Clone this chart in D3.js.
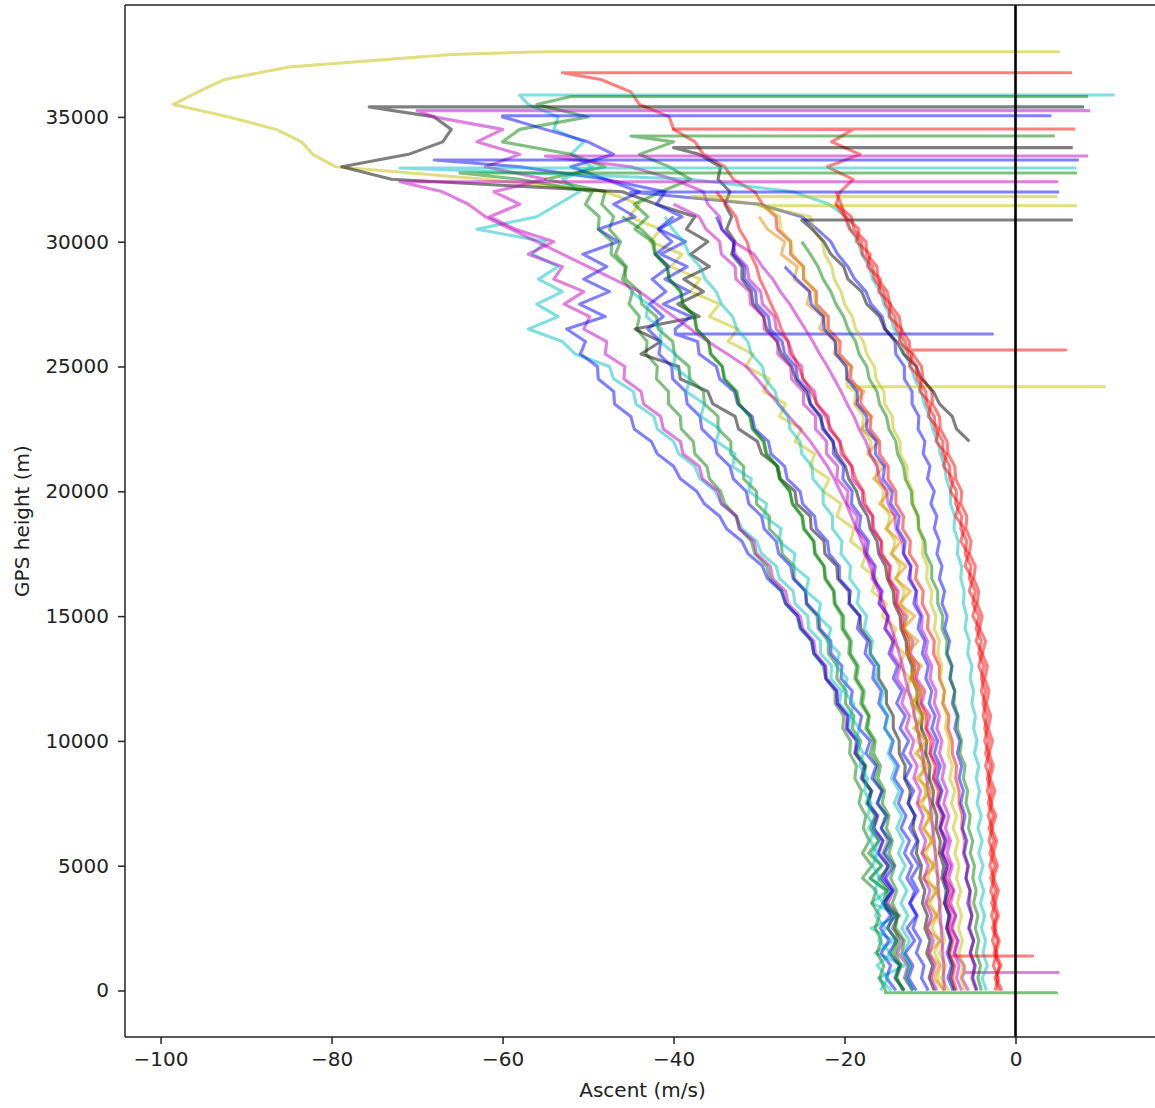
<!DOCTYPE html>
<html>
<head>
<meta charset="utf-8">
<script src="https://cdn.jsdelivr.net/npm/d3@7"></script>
<style>
  body { margin: 0; background: #fff; }
  text { font-family: "DejaVu Sans", sans-serif; }
</style>
</head>
<body>
<script>
const altitudeGrid = [0,500,1000,1500,2000,2500,3000,3500,4000,4500,5000,5500,6000,6500,7000,7500,8000,8500,9000,9500,
  10000,10500,11000,11500,12000,12500,13000,13500,14000,14500,15000,15500,16000,16500,17000,17500,18000,18500,19000,19500,
  20000,20500,21000,21500,22000,22500,23000,23500,24000,24500,25000,25500,26000,26500,27000,27500,28000,28500,29000,29500,
  30000,30500,31000,31500,32000,32500,33000,33500,34000,34500,35000,35500,36000,36500,37000,37500]

const xTicks = [-100,-80,-60,-40,-20,0]
const yTicks = [0,5000,10000,15000,20000,25000,30000,35000]

// descent speed (m/s) per flight
const flight01 = [-7.8,-8.7,-8.1,-8.9,-8.3,-8.6,-9.2,-8.6,-9.4,-8.9,-9.7,-9.1,-9.9,-9.5,-10.2,-9.7,-10.6,-10.1,-11.0,-10.5,
  -11.5,-11.0,-12.0,-11.6,-12.7,-12.3,-13.6,-13.0,-14.5,-14.0,-15.6,-15.1,-16.8,-16.2,-18.0,-17.4,-19.3,-18.9,-20.9,-20.4,
  -22.5,-21.8,-24.0,-23.5,-25.8,-25.0,-27.6,-26.9,-29.5,-28.8,-31.5,-30.7,-33.6,-32.5,-35.8,-34.6,-38.0,-36.9,-40.3,-39.0,
  -42.7,-41.5,-45.2,-44.0,-48.0,-62.0,-79.5,-82.2,-83.5,-86.5,-92.0,-98.5,-95.6,-92.5,-85.0,-66.0]
const flight02 = [-4.6,-5.1,-4.8,-5.3,-4.9,-5.5,-5.1,-5.4,-5.3,-5.8,-5.6,-6.1,-5.9,-6.3,-6.2,-6.6,-6.6,-7.0,-6.9,-7.4,
  -7.4,-7.9,-7.8,-8.5,-8.3,-8.9,-8.9,-9.6,-9.5,-10.3,-10.2,-10.9,-10.8,-11.7,-11.5,-12.4,-12.3,-13.2,-13.1,-14.0,
  -14.0,-14.9,-14.9,-15.9,-15.9,-17.0,-16.9,-18.1,-18.0,-19.3,-19.2,-20.6,-20.5,-21.9,-21.9,-23.3,-23.3,-24.8,-24.8,-26.3,
  -26.3,-27.9,-28.0,-29.6,-30.5,-33.0,-34.0,-36.5,-37.5,-40.0,-40.5,-44.0,-45.0,-48.5]
const flight03 = [-14.5,-16.0,-13.0,-16.4,-14.2,-16.9,-13.5,-16.8,-15.0,-17.0,-15.6,-16.8,-15.9,-17.2,-16.3,-17.5,-16.9,-18.1,-17.6,-18.8,
  -18.4,-19.6,-19.3,-20.6,-20.4,-21.6,-21.5,-22.8,-22.8,-24.2,-24.3,-25.8,-26.0,-27.6,-28.0,-29.7,-30.3,-32.0,-32.7,-34.4,
  -35.1,-36.9,-37.5,-39.4,-40.0,-41.9,-42.3,-44.4,-44.7,-47.0,-47.5,-51.5,-53.0,-57.0,-53.5,-56.0,-53.0,-55.8,-53.5,-56.5,
  -55.0,-63.0,-56.0,-53.5,-51.0,-53.0,-49.5,-52.0,-50.5,-54.0,-53.5,-57.0]
const flight04 = [-15.2,-15.9,-15.4,-16.2,-15.7,-16.4,-15.9,-16.8,-16.3,-17.9,-16.8,-17.9,-17.1,-17.8,-17.5,-18.3,-18.0,-18.8,-18.6,-19.4,
  -19.3,-20.2,-20.1,-21.1,-21.1,-22.2,-22.5,-23.6,-23.9,-25.2,-25.5,-26.9,-27.3,-28.7,-29.1,-30.5,-30.9,-32.3,-32.7,-34.0,
  -34.5,-35.8,-36.1,-37.5,-37.7,-39.1,-39.2,-40.6,-40.6,-42.0,-41.9,-43.2,-43.1,-44.3,-44.0,-45.2,-44.8,-46.0,-45.5,-46.8,
  -46.2,-47.5,-47.0,-48.4,-48.0,-55.0,-48.0,-52.0,-60.0,-58.0,-50.0,-56.0]
const flight05 = [-9.5,-10.1,-9.7,-10.4,-10.0,-10.6,-10.3,-10.9,-10.6,-11.2,-11.0,-11.6,-11.4,-12.0,-11.8,-12.5,-12.3,-13.0,-12.9,-13.6,
  -13.6,-14.3,-14.3,-15.1,-15.1,-16.0,-16.0,-17.0,-17.0,-18.1,-18.2,-19.4,-19.5,-20.8,-20.9,-22.3,-22.4,-23.9,-24.0,-25.6,
  -25.8,-27.5,-27.8,-29.7,-30.2,-32.4,-32.8,-35.4,-36.0,-39.2,-39.4,-43.8,-41.5,-44.5,-37.0,-39.5,-36.5,-38.8,-35.8,-38.0,
  -36.0,-38.5,-37.5,-42.0,-46.0,-73.0,-78.8,-71.0,-67.0,-66.0,-68.0]
const flight06 = [-12.0,-13.0,-12.6,-13.8,-13.2,-14.4,-13.7,-14.9,-14.3,-15.4,-14.9,-16.0,-15.5,-16.6,-16.2,-17.3,-16.9,-18.0,-17.7,-18.8,
  -18.6,-19.8,-19.7,-20.9,-20.9,-22.1,-22.2,-23.4,-23.6,-24.9,-25.2,-26.6,-26.9,-28.4,-28.7,-30.3,-30.6,-32.3,-32.6,-34.4,
  -34.8,-36.6,-37.0,-38.9,-39.2,-41.2,-41.5,-43.5,-43.8,-45.8,-45.7,-48.0,-47.8,-50.5,-49.8,-52.8,-50.5,-54.0,-53.0,-57.0,
  -54.0,-58.5,-61.5,-58.0,-61.0,-55.0,-62.0,-58.0,-63.0,-60.0,-68.0]
const flight07 = [-13.0,-14.1,-13.6,-14.8,-13.9,-15.0,-14.1,-15.3,-14.5,-15.7,-14.9,-16.1,-15.5,-16.6,-16.1,-17.2,-16.8,-17.9,-17.6,-18.7,
  -18.5,-19.7,-19.6,-20.8,-20.9,-22.2,-22.3,-23.6,-23.8,-25.1,-25.5,-26.9,-27.4,-29.0,-29.6,-31.3,-32.0,-33.8,-34.6,-36.4,
  -37.3,-39.2,-40.0,-41.9,-42.6,-44.6,-45.0,-46.9,-47.0,-48.8,-48.9,-50.9,-50.3,-52.5,-48.0,-51.0,-47.5,-50.5,-47.8,-50.6,
  -46.5,-48.8,-44.5,-47.0,-44.0,-48.0,-52.0,-47.0,-50.0,-55.0,-60.0]
const flight08 = [-1.9,-2.4,-1.7,-2.3,-1.9,-2.5,-2.0,-2.4,-2.0,-2.6,-2.1,-2.6,-2.2,-2.8,-2.3,-2.9,-2.4,-3.0,-2.6,-3.1,
  -2.7,-3.2,-2.9,-3.4,-3.1,-3.6,-3.3,-3.9,-3.5,-4.2,-3.9,-4.5,-4.3,-4.9,-4.7,-5.4,-5.2,-5.8,-5.7,-6.4,
  -6.3,-7.0,-7.1,-7.9,-8.0,-8.8,-8.9,-9.7,-9.8,-10.8,-11.0,-12.0,-12.4,-13.4,-13.6,-14.7,-15.0,-16.1,-16.2,-17.4,
  -17.5,-18.9,-19.2,-21.0,-20.5,-19.0,-22.0,-18.2,-21.5,-19.0]
const flight09 = [-12.0,-12.8,-12.4,-13.3,-13.0,-14.0,-13.9,-15.2,-14.8,-16.0,-14.6,-15.5,-14.9,-15.7,-15.2,-16.1,-15.6,-16.5,-16.1,-17.0,
  -16.6,-17.5,-17.2,-18.1,-17.9,-18.8,-18.6,-19.5,-19.4,-20.3,-20.3,-21.2,-21.3,-22.3,-22.4,-23.5,-23.6,-24.8,-25.0,-26.1,
  -26.4,-27.6,-27.9,-29.1,-29.4,-30.7,-31.0,-32.3,-32.6,-34.0,-34.3,-35.6,-35.9,-37.3,-37.6,-38.9,-39.2,-40.5,-40.8,-42.2,
  -42.5,-44.5,-43.0,-44.6,-41.5,-38.0,-40.5,-44.0,-40.0]
const flight10 = [-7.1,-7.6,-7.3,-7.8,-7.5,-8.0,-7.8,-8.3,-8.1,-8.6,-8.4,-8.9,-8.8,-9.3,-9.2,-9.7,-9.6,-10.1,-10.0,-10.5,
  -10.4,-11.0,-10.9,-11.5,-11.5,-12.1,-12.1,-12.7,-12.8,-13.4,-13.5,-14.2,-14.3,-15.0,-15.2,-16.0,-16.2,-17.0,-17.3,-18.2,
  -18.6,-19.5,-19.9,-20.9,-21.4,-22.4,-22.9,-24.0,-24.5,-25.7,-26.2,-27.4,-27.9,-29.1,-29.5,-30.7,-30.9,-32.0,-32.0,-33.2,
  -32.8,-33.8,-33.2,-34.0,-33.4,-34.8,-34.5,-37.0]
const flight11 = [-5.5,-6.3,-6.0,-7.1,-6.7,-7.6,-7.0,-7.9,-7.3,-8.2,-7.6,-8.5,-7.9,-8.8,-8.3,-9.2,-8.7,-9.6,-9.1,-10.0,
  -9.5,-10.4,-10.0,-11.0,-10.6,-11.6,-11.3,-12.3,-12.0,-13.1,-12.8,-13.9,-13.7,-14.8,-14.6,-15.8,-15.7,-16.8,-16.7,-17.9,
  -17.9,-19.1,-19.1,-20.4,-20.5,-21.8,-21.9,-23.3,-23.5,-24.9,-25.0,-26.4,-26.6,-28.0,-28.2,-29.6,-29.8,-31.2,-31.4,-32.8,
  -33.0,-34.4,-34.6,-36.0,-36.5,-40.0,-45.0]
const flight12 = [-10.2,-11.0,-10.7,-11.6,-11.1,-12.0,-11.5,-12.3,-11.8,-12.7,-12.1,-13.0,-12.4,-13.4,-12.8,-13.7,-13.2,-14.2,-13.7,-14.7,
  -14.3,-15.3,-15.0,-16.0,-15.7,-16.7,-16.5,-17.6,-17.3,-18.5,-18.2,-19.5,-19.3,-20.6,-20.6,-21.8,-22.0,-23.3,-23.5,-24.9,
  -25.2,-26.7,-27.0,-28.6,-28.9,-30.5,-30.8,-32.5,-32.9,-34.6,-35.0,-37.0,-37.2,-39.8,-38.0,-41.2,-38.1,-41.0,-38.4,-41.5,
  -38.6,-41.7,-39.0,-42.0,-41.0,-48.0,-58.0]
const flight13 = [-3.4,-3.9,-3.3,-3.8,-3.5,-4.0,-3.6,-4.1,-3.7,-4.2,-3.8,-4.3,-3.9,-4.4,-4.0,-4.5,-4.2,-4.6,-4.3,-4.8,
  -4.5,-4.9,-4.7,-5.1,-4.9,-5.3,-5.1,-5.6,-5.4,-5.9,-5.7,-6.1,-6.0,-6.4,-6.3,-6.8,-6.7,-7.2,-7.1,-7.6,
  -7.6,-8.1,-8.3,-8.8,-9.1,-9.7,-10.0,-10.7,-11.0,-11.8,-12.2,-13.0,-13.3,-14.2,-14.6,-15.4,-15.8,-16.7,-17.1,-18.0,
  -18.4,-19.3,-19.8,-21.8,-26.0,-38.0]
const flight14 = [-13.0,-14.0,-13.5,-14.5,-13.9,-14.9,-14.4,-15.5,-15.1,-17.0,-15.7,-17.2,-16.0,-16.9,-16.4,-17.3,-16.9,-17.8,-17.5,-18.5,
  -18.1,-19.1,-18.9,-19.9,-19.8,-20.9,-20.8,-21.9,-21.9,-23.1,-23.2,-24.5,-24.5,-25.9,-25.9,-27.3,-27.4,-28.8,-28.8,-30.3,
  -30.3,-31.8,-31.8,-33.3,-33.3,-34.8,-34.8,-36.4,-36.5,-38.1,-38.2,-39.9,-40.1,-41.8,-42.0,-43.7,-44.0,-45.6,-45.7,-47.3,
  -47.2,-48.8,-48.7,-50.3,-49.5,-58.0]
const flight15 = [-4.5,-5.0,-4.7,-5.3,-4.9,-5.4,-5.1,-5.6,-5.3,-5.8,-5.5,-6.0,-5.7,-6.2,-5.9,-6.4,-6.1,-6.6,-6.3,-6.8,
  -6.5,-7.1,-6.8,-7.4,-7.1,-7.7,-7.4,-8.0,-7.7,-8.3,-8.0,-8.6,-8.3,-8.9,-8.6,-9.2,-8.9,-9.5,-9.2,-9.9,
  -9.5,-10.3,-10.0,-10.8,-10.6,-11.4,-11.3,-12.1,-12.1,-13.0,-13.0,-14.0,-14.1,-15.2,-15.6,-16.9,-17.5,-18.8,-19.6,-20.8,
  -21.6,-23.2,-25.0,-30.0]
const flight16 = [-8.4,-9.2,-8.7,-9.5,-8.9,-9.8,-9.2,-10.0,-9.4,-10.3,-9.7,-10.5,-9.9,-10.7,-10.1,-10.9,-10.4,-11.2,-10.6,-11.4,
  -10.8,-11.6,-11.1,-11.9,-11.4,-12.2,-11.8,-12.6,-12.2,-13.0,-12.6,-13.4,-13.0,-13.9,-13.5,-14.4,-14.1,-15.0,-14.7,-15.6,
  -15.4,-16.3,-16.1,-17.1,-16.9,-17.9,-17.8,-18.8,-18.7,-19.7,-19.8,-20.9,-21.1,-22.2,-22.3,-23.4,-23.5,-24.7,-24.9,-26.1,
  -26.3,-27.5,-27.6,-30.0]
const flight17 = [-5.9,-6.4,-6.1,-6.6,-6.2,-6.7,-6.3,-6.8,-6.4,-6.9,-6.6,-7.1,-6.7,-7.3,-6.9,-7.5,-7.1,-7.7,-7.4,-7.9,
  -7.7,-8.2,-8.0,-8.5,-8.3,-8.8,-8.6,-9.1,-8.9,-9.5,-9.3,-9.9,-9.8,-10.4,-10.3,-10.9,-10.8,-11.4,-11.4,-12.0,
  -12.0,-12.7,-12.7,-13.5,-13.5,-14.3,-14.4,-15.3,-15.4,-16.3,-16.5,-17.4,-17.8,-18.7,-19.1,-20.0,-20.4,-21.2,-21.5,-22.3,
  -22.6,-23.6,-24.0]
// this one has no data below 22 km
const flight18 = [-5.4,-6.9,-7.4,-8.9,-9.6,-11.0,-11.6,-13.1,-13.9,-15.3,-15.9,-17.4,-18.0,-19.6,-20.1,-21.6,-22.4,-23.8]
const flight19 = [-8.3,-8.4,-8.4,-8.5,-8.6,-8.7,-8.8,-8.9,-9.0,-9.1,-9.2,-9.4,-9.5,-9.7,-9.8,-10.0,-10.2,-10.4,-10.7,-10.9,
  -11.2,-11.5,-11.8,-12.1,-12.5,-12.9,-13.2,-13.6,-14.0,-14.5,-15.0,-15.5,-16.0,-16.5,-17.0,-17.5,-18.0,-18.6,-19.2,-19.8,
  -20.5,-21.2,-22.0,-23.0,-24.0,-25.2,-26.5,-27.7,-29.0,-30.2,-31.5,-33.7,-36.0,-38.0,-40.0,-42.0,-44.0,-47.0,-50.0,-53.0,
  -56.0,-59.0,-62.0,-64.0,-67.0]
const flight20 = [-14.0,-15.1,-14.6,-15.7,-14.8,-15.8,-14.6,-15.5,-14.3,-15.2,-14.2,-15.3,-14.6,-15.7,-15.0,-16.2,-15.6,-16.8,-16.3,-17.5,
  -17.0,-18.3,-18.0,-19.3,-19.1,-20.4,-20.3,-21.6,-21.6,-22.9,-23.0,-24.4,-24.6,-26.0,-26.3,-27.7,-28.0,-29.4,-29.7,-31.2,
  -31.5,-33.0,-33.4,-34.9,-35.2,-36.7,-36.9,-38.4,-38.6,-40.1,-40.2,-41.7,-41.5,-43.0,-41.2,-42.8,-40.9,-42.5,-40.5,-42.1,
  -40.2,-41.8,-40.0]
const flight21 = [-6.9,-7.4,-7.1,-7.7,-7.3,-7.9,-7.5,-8.1,-7.7,-8.3,-8.0,-8.6,-8.3,-8.9,-8.6,-9.2,-9.0,-9.6,-9.4,-10.0,
  -9.9,-10.5,-10.4,-11.1,-11.1,-11.8,-11.8,-12.5,-12.5,-13.2,-13.2,-14.0,-14.0,-14.8,-14.8,-15.6,-15.7,-16.6,-16.7,-17.6,
  -17.8,-18.7,-19.2,-20.1,-20.6,-21.6,-22.2,-23.2,-23.9,-24.8,-25.4,-26.1,-26.6,-27.4,-27.9,-28.6,-29.2,-29.9,-30.3,-31.0,
  -31.4,-32.3,-32.7,-33.8,-35.0]
const flight22 = [-12.0,-12.8,-12.3,-13.1,-12.4,-13.3,-12.6,-13.4,-12.7,-13.6,-12.9,-13.7,-13.1,-13.9,-13.3,-14.2,-13.6,-14.5,-14.0,-14.9,
  -14.4,-15.3,-14.9,-15.8,-15.4,-16.4,-16.0,-17.0,-16.7,-17.7,-17.4,-18.5,-18.3,-19.4,-19.3,-20.4,-20.3,-21.4,-21.4,-22.5,
  -22.5,-23.7,-23.8,-25.0,-25.2,-26.4,-26.6,-27.8,-28.1,-29.3,-29.6,-30.9,-31.3,-32.6,-33.1,-34.4,-35.0,-36.3,-36.9,-38.2,
  -38.8,-40.1,-41.0]
const flight23 = [-8.3,-9.6,-8.9,-10.2,-8.8,-10.5,-9.2,-10.4,-9.0,-10.9,-9.4,-11.0,-9.6,-10.8,-9.8,-11.4,-9.7,-11.6,-10.1,-11.7,
  -10.3,-11.9,-10.5,-12.2,-10.8,-12.4,-11.0,-12.7,-11.4,-13.1,-11.8,-13.6,-12.3,-14.1,-12.8,-14.6,-13.4,-15.2,-14.0,-15.9,
  -14.7,-16.6,-15.4,-17.3,-16.0,-18.0,-16.8,-18.8,-17.7,-19.8,-19.2,-21.2,-20.8,-22.9,-22.4,-24.4,-24.0,-25.9,-25.5,-27.4,
  -27.0,-29.0,-30.0]
const flight24 = [-4.0,-4.4,-4.1,-4.6,-4.3,-4.7,-4.4,-4.9,-4.6,-5.0,-4.8,-5.3,-5.0,-5.5,-5.3,-5.8,-5.6,-6.1,-5.9,-6.5,
  -6.3,-6.8,-6.7,-7.2,-7.1,-7.6,-7.5,-8.1,-8.0,-8.6,-8.5,-9.1,-9.1,-9.8,-9.8,-10.5,-10.6,-11.3,-11.4,-12.1,
  -12.2,-12.9,-13.1,-13.8,-14.0,-14.8,-15.1,-15.9,-16.2,-17.1,-17.4,-18.3,-18.7,-19.6,-20.1,-21.0,-21.6,-22.5,-23.1,-24.0,
  -25.0]
const flight25 = [-6.3,-6.9,-6.6,-7.2,-6.8,-7.4,-7.0,-7.6,-7.2,-7.8,-7.4,-8.0,-7.6,-8.2,-7.8,-8.4,-8.0,-8.6,-8.3,-8.9,
  -8.6,-9.2,-8.9,-9.5,-9.3,-10.0,-9.8,-10.5,-10.3,-11.0,-10.9,-11.6,-11.6,-12.3,-12.3,-13.1,-13.2,-14.0,-14.1,-14.9,
  -15.1,-15.9,-16.2,-17.0,-17.5,-18.3,-18.9,-19.7,-20.4,-21.2,-22.0,-22.9,-23.7,-24.6,-25.5,-26.4,-27.5,-28.4,-29.6,-30.6,
  -33.0]
const flight26 = [-11.6,-12.5,-12.0,-12.9,-11.8,-12.7,-11.6,-12.4,-11.4,-12.2,-11.3,-12.2,-11.5,-12.4,-11.7,-12.6,-11.9,-12.9,-12.2,-13.2,
  -12.5,-13.5,-12.9,-13.9,-13.3,-14.3,-13.8,-14.8,-14.3,-15.3,-14.9,-15.9,-15.6,-16.6,-16.4,-17.4,-17.2,-18.3,-18.1,-19.2,
  -19.1,-20.2,-20.1,-21.3,-21.3,-22.6,-22.7,-24.0,-24.2,-25.5,-25.7,-27.0,-27.3,-28.7,-28.9,-30.3,-30.4,-31.7,-31.7,-33.0,
  -33.0,-34.3,-35.0]
const flight27 = [-2.4,-2.0,-2.6,-2.2,-2.7,-2.3,-2.8,-2.4,-2.9,-2.5,-3.0,-2.6,-3.1,-2.7,-3.2,-2.8,-3.3,-3.0,-3.5,-3.1,
  -3.6,-3.3,-3.8,-3.5,-4.0,-3.7,-4.3,-3.9,-4.6,-4.2,-5.0,-4.6,-5.4,-5.0,-5.9,-5.5,-6.4,-6.0,-7.0,-6.6,
  -7.6,-7.3,-8.4,-8.1,-9.3,-9.0,-10.2,-9.9,-11.2,-11.0,-12.4,-12.1,-13.6,-13.3,-14.8,-14.6,-16.0,-15.8,-17.3,-17.0,
  -18.6,-18.3,-19.9,-20.4,-21.0]
const flight28 = [-13.2,-13.9,-13.4,-14.1,-13.6,-14.2,-13.7,-14.4,-13.9,-14.6,-14.1,-14.8,-14.4,-15.1,-14.8,-15.6,-15.3,-16.1,-15.8,-16.6,
  -16.4,-17.3,-17.1,-17.9,-17.7,-18.6,-18.4,-19.3,-19.2,-20.1,-20.1,-21.1,-21.2,-22.2,-22.4,-23.4,-23.6,-24.7,-24.9,-26.1,
  -26.4,-27.6,-27.9,-29.2,-29.5,-30.8,-31.1,-32.4,-32.7,-34.1,-34.3,-35.7,-35.9,-37.3,-37.5,-38.9,-39.1,-40.5,-40.7,-42.1,
  -42.3,-43.8,-46.0]
const flight29 = [-9.2,-9.9,-9.4,-10.1,-9.6,-10.3,-9.8,-10.5,-10.0,-10.7,-10.2,-10.9,-10.5,-11.2,-10.8,-11.5,-11.1,-11.9,-11.5,-12.3,
  -11.9,-12.8,-12.4,-13.3,-12.9,-13.9,-13.5,-14.5,-14.2,-15.2,-14.9,-16.0,-15.7,-16.8,-16.6,-17.7,-17.5,-18.7,-18.5,-19.7,
  -19.6,-20.9,-20.8,-22.1,-22.1,-23.4,-23.4,-24.8,-24.8,-26.2,-26.3,-27.8,-27.8,-29.4,-29.4,-31.0,-31.1,-32.7,-32.8,-34.4,
  -34.6,-36.2,-37.0,-40.0]
const flight30 = [-7.3,-7.9,-7.5,-8.0,-7.6,-8.1,-7.7,-8.3,-7.9,-8.4,-8.0,-8.6,-8.2,-8.8,-8.4,-9.0,-8.6,-9.2,-8.8,-9.5,
  -9.1,-9.8,-9.4,-10.1,-9.8,-10.5,-10.2,-10.9,-10.6,-11.4,-11.1,-11.9,-11.6,-12.5,-12.2,-13.1,-12.9,-13.8,-13.6,-14.6,
  -14.4,-15.5,-15.3,-16.4,-16.3,-17.4,-17.4,-18.5,-18.5,-19.7,-19.8,-21.0,-21.1,-22.4,-22.5,-23.9,-24.1,-25.6,-27.0]
const flight31 = [-15.8,-14.9,-16.2,-14.6,-16.0,-15.2,-16.4,-15.5,-16.5,-15.9,-16.7,-16.2,-17.0,-16.5,-17.3,-16.9,-17.7,-17.3,-18.2,-17.8,
  -18.6,-18.3,-19.3,-18.9,-20.1,-19.7,-21.0,-20.6,-22.0,-21.6,-23.1,-22.8,-24.5,-24.2,-26.0,-25.8,-27.7,-27.4,-29.4,-29.1,
  -31.2,-30.9,-33.1,-32.8,-35.0,-34.6,-36.8,-36.4,-38.5,-38.1,-40.0,-39.8,-41.6,-41.4,-43.2,-43.0,-45.0]
const flight32 = [-1.6,-2.2,-1.9,-2.5,-2.1,-2.7,-2.2,-2.8,-2.3,-2.9,-2.4,-3.0,-2.5,-3.1,-2.6,-3.2,-2.8,-3.3,-2.9,-3.5,
  -3.1,-3.6,-3.3,-3.8,-3.5,-4.0,-3.7,-4.3,-4.0,-4.6,-4.3,-5.0,-4.7,-5.4,-5.2,-5.9,-5.7,-6.4,-6.3,-7.0,
  -6.9,-7.7,-7.7,-8.5,-8.5,-9.4,-9.5,-10.4,-10.5,-11.5,-11.6,-12.6,-12.9,-13.9,-14.1,-15.2,-15.4,-16.5,-16.7,-17.9,
  -18.0,-19.4,-20.0,-21.0]

const flights = [flight01,flight02,flight03,flight04,flight05,flight06,flight07,flight08,flight09,flight10,flight11,flight12,flight13,
  flight14,flight15,flight16,flight17,flight18,flight19,flight20,flight21,flight22,flight23,flight24,flight25,flight26,flight27,
  flight28,flight29,flight30,flight31,flight32]
// lowest altitude of each profile
const bottomAlt = [0,0,0,0,0,0,0,0,0,0,0,0,0,0,0,0,0,22000,0,0,0,0,0,0,0,0,0,0,0,0,0,0]

// burst: altitude, last ascent speed, first descent speed (null = not visible)
const burstAlt  = [37611,36771,35877,35817,35400,35250,35047,34516,34236,33767,33434,33274,32955,32754,31993,31805,31443,30870,32400]
const burstUp   = [5.2,6.6,11.6,8.5,8.0,8.7,4.2,7.0,4.6,6.7,8.5,7.4,7.1,7.2,5.1,4.9,7.2,6.7,5.0]
const burstDown = [-55,-53,-58,-52,-75.6,-70,-60,-40,-45,-40,-55,-68,-72,-65,-45,-38,-30,-25,-72]

// single-sample glitches: flight index, altitude, speed
const spikeFlight = [7,11,15,10,20,3]
const spikeAlt    = [25660,26300,24190,720,1380,-90]
const spikeSpeed  = [5.9,-2.7,10.4,5.0,2.0,4.8]

const colorKey = ['y','r','c','g','k','m','b','r','g','k','m','b','c','g','b','y','y','k','m','b','r','c','o','g','m','b','r',
  'g','m','b','c','r']
const palette = {b:'#0000ff', g:'#008000', r:'#ff0000', c:'#00bfbf', m:'#bf00bf', y:'#bfbf00', k:'#000000', o:'#e08a00'}

const width = 1155
const height = 1108

const x = d3.scaleLinear().domain([-104.16, 16.9]).range([125, 1160])
const y = d3.scaleLinear().domain([-1863, 39483]).range([1037, 5])

const svg = d3.select("body").append("svg")
    .attr("width", width)
    .attr("height", height)

svg.append("clipPath").attr("id", "plot")
  .append("rect").attr("x", 125).attr("y", 5).attr("width", 1035).attr("height", 1032)

function flightPoints(i) {
  const v = flights[i]
  const pts = []
  if (burstAlt[i] != null) {
    pts.push([burstUp[i], burstAlt[i]], [burstDown[i], burstAlt[i]])
  }
  for (let j = v.length - 1; j >= 0; j--) pts.push([v[j], bottomAlt[i] + altitudeGrid[j]])
  spikeFlight.forEach((f, s) => {
    if (f !== i) return
    let k = pts.findIndex((p, n) => n > 0 && p[1] < spikeAlt[s])
    if (k < 0) k = pts.length
    const base = pts[k - 1][0]
    pts.splice(k, 0, [base, spikeAlt[s]], [spikeSpeed[s], spikeAlt[s]], [base, spikeAlt[s]])
  })
  return pts
}

const line = d3.line()
  .x(d => x(d[0]))
  .y(d => y(d[1]))

const g = svg.append("g").attr("clip-path", "url(#plot)")

g.selectAll("path.flight")
  .data(flights.map((f, i) => i))
  .enter()
  .append("path")
  .attr("class", "flight")
  .attr("d", i => line(flightPoints(i)))
  .attr("fill", "none")
  .attr("stroke", i => palette[colorKey[i]])
  .attr("stroke-opacity", 0.5)
  .attr("stroke-width", 3.1)
  .attr("stroke-linejoin", "round")

// x = 0 reference line
g.append("line")
  .attr("x1", x(0)).attr("x2", x(0))
  .attr("y1", 5).attr("y2", 1037)
  .attr("stroke", "#000")
  .attr("stroke-width", 2.6)

// axes
svg.append("g")
  .attr("transform", "translate(0,1037)")
  .call(d3.axisBottom(x).tickValues(xTicks).tickSize(7).tickPadding(8).tickFormat(d3.format("d")))
svg.append("g")
  .attr("transform", "translate(125,0)")
  .call(d3.axisLeft(y).tickValues(yTicks).tickSize(7).tickPadding(9).tickFormat(d3.format("d")))

svg.selectAll(".domain").remove()
svg.selectAll(".tick line").attr("stroke", "#222").attr("stroke-width", 1.5)
svg.selectAll(".tick text").attr("font-size", 20).attr("fill", "#222")
  .attr("font-family", "DejaVu Sans")

// spines
const spine = [[125, 5, 125, 1037], [125, 5, 1160, 5], [125, 1037, 1160, 1037], [1160, 5, 1160, 1037]]
svg.selectAll("line.spine")
  .data(spine)
  .enter()
  .append("line")
  .attr("class", "spine")
  .attr("x1", d => d[0]).attr("y1", d => d[1])
  .attr("x2", d => d[2]).attr("y2", d => d[3])
  .attr("stroke", "#222")
  .attr("stroke-width", 1.5)

svg.append("text")
  .attr("x", 642.5)
  .attr("y", 1097)
  .attr("text-anchor", "middle")
  .attr("font-size", 20)
  .attr("fill", "#222")
  .text("Ascent (m/s)")

svg.append("text")
  .attr("transform", "translate(29,521) rotate(-90)")
  .attr("text-anchor", "middle")
  .attr("font-size", 20)
  .attr("fill", "#222")
  .text("GPS height (m)")
</script>
</body>
</html>
